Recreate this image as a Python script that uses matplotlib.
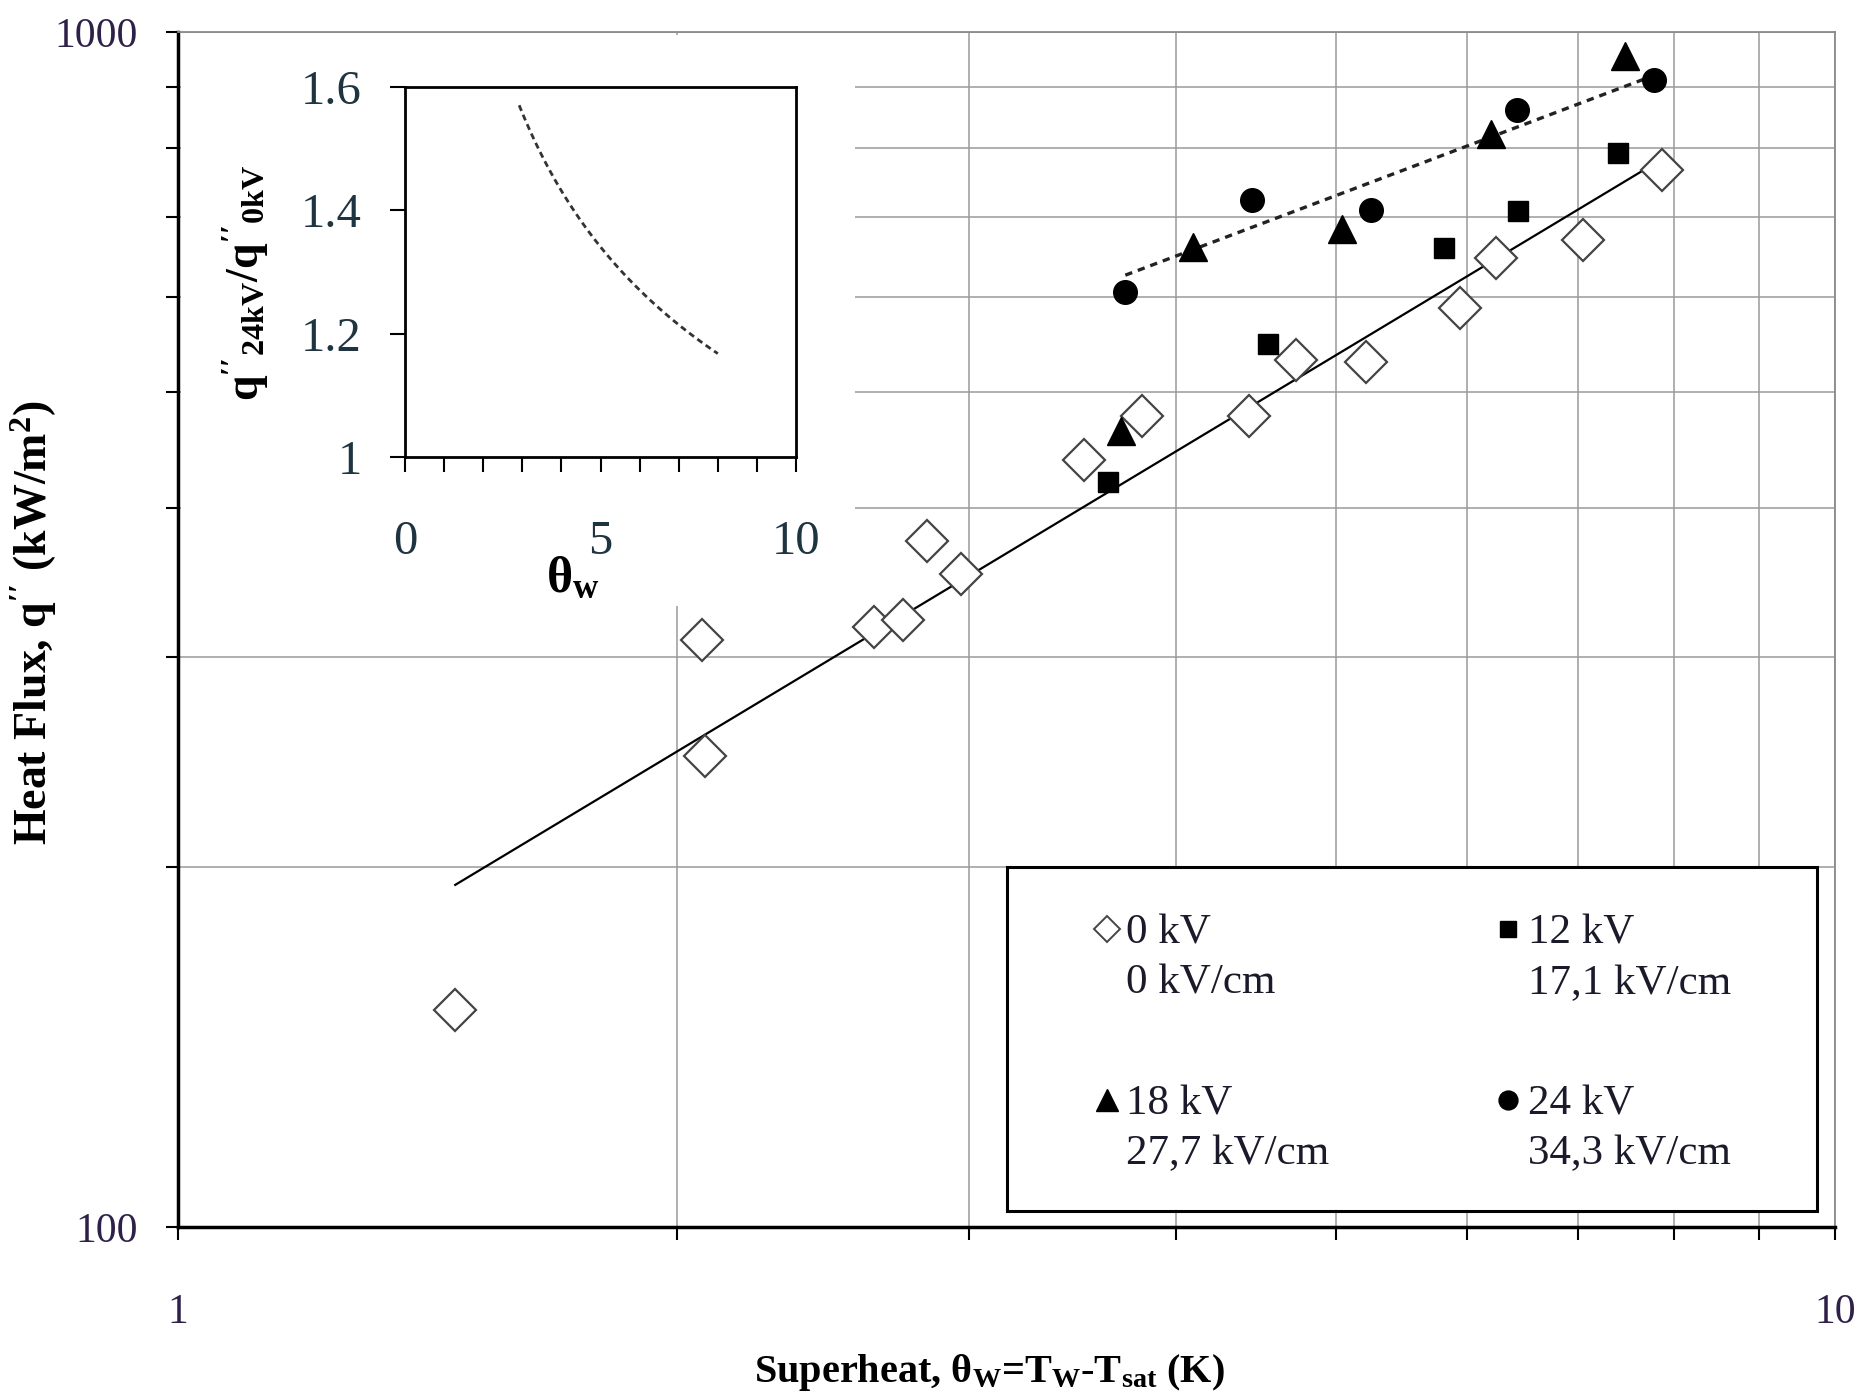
import numpy as np
import matplotlib
matplotlib.use("Agg")
import matplotlib.pyplot as plt
from matplotlib.ticker import FixedLocator, FixedFormatter, NullFormatter, NullLocator
from matplotlib.patches import Rectangle
from matplotlib.lines import Line2D
from matplotlib.legend_handler import HandlerLine2D

plt.rcParams['font.family'] = ['Liberation Serif', 'DejaVu Serif']
plt.rcParams['mathtext.fontset'] = 'custom'
plt.rcParams['mathtext.rm'] = 'Liberation Serif'
plt.rcParams['mathtext.it'] = 'Liberation Serif:italic'
plt.rcParams['mathtext.bf'] = 'Liberation Serif:bold'

# ---------------- data ----------------
x_0kv = [1.47, 2.07, 2.08, 2.63, 2.74, 2.83, 2.97, 3.52, 3.82, 4.43, 4.73, 5.21, 5.94, 6.24, 7.05, 7.86]
q_0kv = [152, 310, 248, 318, 322, 375, 352, 438, 477, 477, 532, 529, 587, 647, 670, 767]

x_12kv = [3.64, 4.55, 5.81, 6.44, 7.40]
q_12kv = [420, 548, 659, 708, 792]

x_18kv = [3.71, 4.10, 5.04, 6.20, 7.47]
q_18kv = [464, 661, 684, 821, 955]

x_24kv = [3.73, 4.45, 5.25, 6.43, 7.78]
q_24kv = [606, 724, 709, 860, 912]

# power-law fits q = C * theta^n
fit0_C, fit0_n, fit0_range = 140.2, 0.834, (1.47, 7.86)
fit24_C, fit24_n, fit24_range = 314.0, 0.524, (3.73, 7.78)

# inset ratio curve q24/q0 = C * theta^n
ratio_C, ratio_n, ratio_range = 2.152, -0.294, (2.92, 8.0)

legend_labels = ["0 kV\n0 kV/cm", "12 kV\n17,1 kV/cm", "18 kV\n27,7 kV/cm", "24 kV\n34,3 kV/cm"]
main_xticklabels = ['1', '10']
main_yticklabels = ['100', '1000']
inset_xticklabels = ['0', '5', '10']
inset_yticklabels = ['1', '1.2', '1.4', '1.6']

# ---------------- figure ----------------
W, H = 1862, 1398
fig = plt.figure(figsize=(W / 100, H / 100), dpi=100)


def fx(px):
    return px / W


def fy(py):
    return 1 - py / H


L, R, T, B = 178, 1835, 32, 1227
ax = fig.add_axes([fx(L), fy(B), fx(R) - fx(L), fy(T) - fy(B)])


def axx(px):
    return (px - L) / (R - L)


def axy(py):
    return (B - py) / (B - T)


ax.set_xscale('log')
ax.set_yscale('log')
ax.set_xlim(1, 10)
ax.set_ylim(100, 1000)

ax.xaxis.set_major_locator(FixedLocator([1, 10]))
ax.xaxis.set_minor_locator(FixedLocator([2, 3, 4, 5, 6, 7, 8, 9]))
ax.yaxis.set_major_locator(FixedLocator([100, 1000]))
ax.yaxis.set_minor_locator(FixedLocator([200, 300, 400, 500, 600, 700, 800, 900]))
ax.xaxis.set_major_formatter(FixedFormatter(main_xticklabels))
ax.yaxis.set_major_formatter(FixedFormatter(main_yticklabels))
ax.xaxis.set_minor_formatter(NullFormatter())
ax.yaxis.set_minor_formatter(NullFormatter())

ax.grid(True, which='both', color='#9a9a9a', lw=1.1)
for s in ['top', 'right']:
    ax.spines[s].set_color('#8a8a8a')
    ax.spines[s].set_linewidth(1.3)
for s in ['left', 'bottom']:
    ax.spines[s].set_color('black')
    ax.spines[s].set_linewidth(2.5)

ax.tick_params(which='both', direction='out', length=9, width=1.5, color='black')
ax.tick_params(axis='x', which='major', labelsize=30, pad=39, labelcolor='#2e2048')
ax.tick_params(axis='y', which='major', labelsize=30, pad=20, labelcolor='#2e2048')

# white area behind the inset
ax.add_patch(Rectangle((fx(181), fy(606)), fx(855) - fx(181), fy(35) - fy(606),
                       transform=fig.transFigure, facecolor='white', edgecolor='none',
                       zorder=1.8, clip_on=False))

# fits
xf0 = np.linspace(fit0_range[0], fit0_range[1], 100)
ax.plot(xf0, fit0_C * xf0 ** fit0_n, color='black', lw=1.6, zorder=3)
xf24 = np.linspace(fit24_range[0], fit24_range[1], 100)
ax.plot(xf24, fit24_C * xf24 ** fit24_n, color='#222222', lw=2.4, ls=(0, (2.2, 1.8)), zorder=3)

# data
h0, = ax.plot(x_0kv, q_0kv, ls='none', marker='D', ms=21, mfc='white', mec='#444444', mew=1.6, zorder=4)
h12, = ax.plot(x_12kv, q_12kv, ls='none', marker='s', ms=15, mfc='black', mec='black', zorder=4)
h18, = ax.plot(x_18kv, q_18kv, ls='none', marker='^', ms=20, mfc='black', mec='black', zorder=4)
h24, = ax.plot(x_24kv, q_24kv, ls='none', marker='o', ms=17, mfc='black', mec='black', zorder=4)

ax.set_xlabel(r"Superheat, $\mathbf{\theta_W}$=T$_\mathbf{W}$-T$_\mathbf{sat}$ (K)",
              fontsize=29, fontweight='bold')
ax.xaxis.set_label_coords(0.49, -0.105)
ax.set_ylabel("Heat Flux, q$^{\\mathbf{\\prime\\prime}}$ (kW/m$^\\mathbf{2}$)", fontsize=33, fontweight='bold')
ax.yaxis.set_label_coords(-0.072, 0.506)


class UpHandler(HandlerLine2D):
    def create_artists(self, legend, orig_handle, xdescent, ydescent, width, height, fontsize, trans):
        return super().create_artists(legend, orig_handle, xdescent, ydescent - 1.35 * fontsize,
                                      width, height, fontsize, trans)


# legend frame
ax.add_patch(Rectangle((axx(1007), axy(1211)), axx(1817) - axx(1007), axy(867) - axy(1211),
                       transform=ax.transAxes, facecolor='white', edgecolor='black', lw=2.2,
                       zorder=4.5, clip_on=False))

handles = [h0, h18, h12, h24]
labels = [legend_labels[0], legend_labels[2], legend_labels[1], legend_labels[3]]
leg = ax.legend(handles, labels, ncol=2, loc='upper left',
                bbox_to_anchor=(axx(1092), axy(914)),
                fontsize=31, markerscale=0.8, handlelength=0.7, handletextpad=0.1,
                labelspacing=1.9, borderpad=0, columnspacing=3.8, borderaxespad=0,
                frameon=False,
                handler_map={Line2D: UpHandler()})
leg.set_zorder(5)
leg.legend_handles[0].set_markersize(13)
leg.legend_handles[0].set_markeredgewidth(1.4)
for t in leg.get_texts():
    t.set_color('#1a1a2a')
    t.set_linespacing(1.4)

# ---------------- inset ----------------
iax = fig.add_axes([fx(405), fy(457), fx(796) - fx(405), fy(87) - fy(457)])
iax.set_zorder(3)
iax.set_xlim(0, 10)
iax.set_ylim(1, 1.6)
iax.xaxis.set_major_locator(FixedLocator([0, 5, 10]))
iax.xaxis.set_minor_locator(FixedLocator([1, 2, 3, 4, 6, 7, 8, 9]))
iax.yaxis.set_major_locator(FixedLocator([1.0, 1.2, 1.4, 1.6]))
iax.yaxis.set_minor_locator(NullLocator())
iax.xaxis.set_major_formatter(FixedFormatter(inset_xticklabels))
iax.yaxis.set_major_formatter(FixedFormatter(inset_yticklabels))
for s in iax.spines.values():
    s.set_linewidth(2.0)
iax.tick_params(which='both', direction='out', length=11, width=1.5)
iax.tick_params(axis='both', which='major', labelsize=35, labelcolor='#1e3440')
iax.tick_params(axis='x', which='major', pad=34)
iax.tick_params(axis='y', which='major', pad=20)

xr = np.linspace(ratio_range[0], ratio_range[1], 100)
iax.plot(xr, ratio_C * xr ** ratio_n, color='#333333', lw=2.0, ls=(0, (2.2, 1.5)))

iax.set_xlabel(r"$\mathbf{\theta}_\mathbf{w}$", fontsize=36, labelpad=0)
iax.xaxis.set_label_coords(0.43, -0.268)
iax.set_ylabel(r"$\mathbf{q^{\prime\prime}{}_{24kV}/q^{\prime\prime}{}_{0kV}}$", fontsize=33)
iax.yaxis.set_label_coords(-0.343, 0.47)

fig.savefig("out.png", dpi=100, facecolor='white')
